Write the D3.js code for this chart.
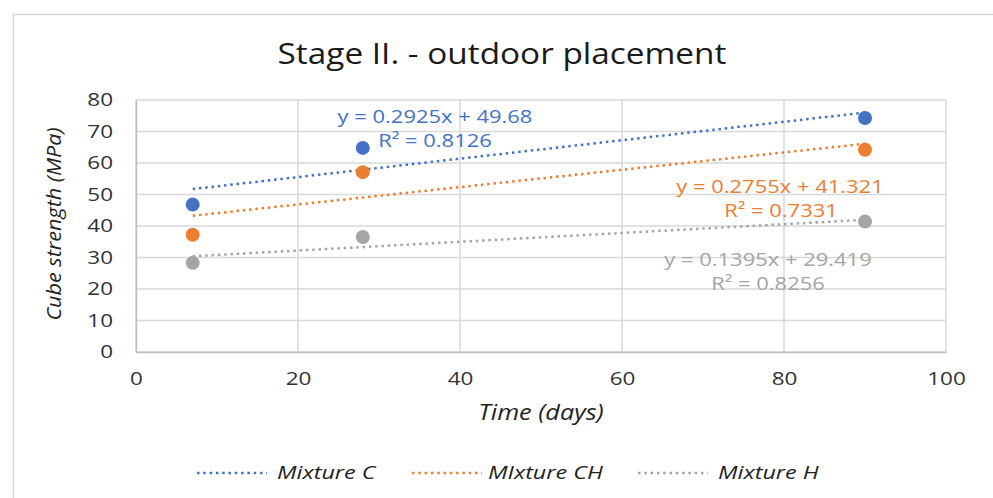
<!DOCTYPE html>
<html>
<head>
<meta charset="utf-8">
<script src="https://cdn.jsdelivr.net/npm/d3@7"></script>
<style>
  html, body { margin: 0; padding: 0; background: #fff; }
  #chart { width: 993px; height: 498px; }
  text { font-family: "Open Sans", Calibri, sans-serif; }
</style>
</head>
<body>
<div id="chart"></div>
<script>
// data
const days = [7, 28, 90];
const seriesNames = ["Mixture C", "MIxture CH", "Mixture H"];
const mixtureC = [46.8, 64.8, 74.3];
const mixtureCH = [37.2, 57.1, 64.2];
const mixtureH = [28.3, 36.5, 41.4];
const slopes = [0.2925, 0.2755, 0.1395];
const intercepts = [49.68, 41.321, 29.419];
const eqLabels = ["y = 0.2925x + 49.68", "y = 0.2755x + 41.321", "y = 0.1395x + 29.419"];
const r2Labels = ["R² = 0.8126", "R² = 0.7331", "R² = 0.8256"];
const xTicks = [0, 20, 40, 60, 80, 100];
const yTicks = [0, 10, 20, 30, 40, 50, 60, 70, 80];

const colors = ["#4472C4", "#ED7D31", "#A5A5A5"];
const values = [mixtureC, mixtureCH, mixtureH];

const width = 993, height = 498;
const svg = d3.select("#chart").append("svg")
    .attr("width", width)
    .attr("height", height);

// the source picture is a bit wider than tall, so text gets stretched sideways
function label(g, x, y, txt, size, sx, opts) {
    opts = opts || {};
    return g.append("text")
        .attr("transform", `translate(${x},${y})` + (opts.rotate ? ` rotate(${opts.rotate})` : "") + ` scale(${sx},1)`)
        .attr("text-anchor", opts.anchor || "middle")
        .attr("font-size", size)
        .attr("font-style", opts.italic ? "italic" : null)
        .attr("fill", opts.fill || "#222")
        .text(txt);
}

// chart border
svg.append("rect")
    .attr("x", 13.5).attr("y", 14.5)
    .attr("width", 990).attr("height", 500)
    .attr("fill", "#fff")
    .attr("stroke", "#d9d9d9")
    .attr("stroke-width", 1.5);

const plot = { left: 136, top: 100, right: 946, bottom: 352 };

const x = d3.scaleLinear().domain([0, 100]).range([plot.left, plot.right]);
const y = d3.scaleLinear().domain([0, 80]).range([plot.bottom, plot.top]);

label(svg, 502, 64, "Stage II. - outdoor placement", 29, 1.15, { fill: "#1a1a1a" });

// gridlines
svg.append("g")
    .selectAll("line")
    .data(yTicks)
    .join("line")
    .attr("x1", plot.left).attr("x2", plot.right)
    .attr("y1", d => y(d)).attr("y2", d => y(d))
    .attr("stroke", "#d9d9d9")
    .attr("stroke-width", 1.5);

svg.append("g")
    .selectAll("line")
    .data(xTicks)
    .join("line")
    .attr("x1", d => x(d)).attr("x2", d => x(d))
    .attr("y1", plot.top).attr("y2", plot.bottom)
    .attr("stroke", "#d9d9d9")
    .attr("stroke-width", 1.5);

// axes
const yAxis = svg.append("g")
    .attr("transform", `translate(${plot.left},0)`)
    .call(d3.axisLeft(y).tickValues(yTicks).tickSize(0));
yAxis.selectAll("text")
    .attr("x", 0)
    .attr("transform", "translate(-23,0) scale(1.25,1)");

const xAxis = svg.append("g")
    .attr("transform", `translate(0,${plot.bottom})`)
    .call(d3.axisBottom(x).tickValues(xTicks).tickSize(0).tickPadding(20));
xAxis.selectAll("text")
    .attr("transform", "scale(1.25,1)");

[xAxis, yAxis].forEach(a => {
    a.select(".domain").attr("stroke", "#bfbfbf").attr("stroke-width", 1.5);
    a.selectAll("text")
        .attr("font-size", 18)
        .attr("fill", "#333")
        .style("font-family", "'Open Sans', sans-serif");
});

label(svg, 541, 420, "Time (days)", 21, 1.2, { italic: true });
label(svg, 61, 224, "Cube strength (MPa)", 20, 1.08, { italic: true, rotate: -90 });

// trend lines
const xMin = d3.min(days), xMax = d3.max(days);
slopes.forEach((m, i) => {
    svg.append("line")
        .attr("x1", x(xMin)).attr("y1", y(m * xMin + intercepts[i]))
        .attr("x2", x(xMax)).attr("y2", y(m * xMax + intercepts[i]))
        .attr("stroke", colors[i])
        .attr("stroke-width", 2.5)
        .attr("stroke-dasharray", "2.5,3.8");
});

// points
values.forEach((vals, i) => {
    svg.append("g")
        .selectAll("circle")
        .data(vals)
        .join("circle")
        .attr("cx", (d, j) => x(days[j]))
        .attr("cy", d => y(d))
        .attr("r", 7)
        .attr("fill", colors[i]);
});

// equation labels
const eqPos = [[435, 123, 435, 147], [780, 193, 781, 217], [768, 266, 768, 290]];
eqLabels.forEach((t, i) => {
    label(svg, eqPos[i][0], eqPos[i][1], t, 18, 1.22, { fill: colors[i] });
    label(svg, eqPos[i][2], eqPos[i][3], r2Labels[i], 18, 1.22, { fill: colors[i] });
});

// legend
const legendX = [197, 412, 638];
const legend = svg.append("g")
    .selectAll("g")
    .data(seriesNames)
    .join("g")
    .attr("transform", (d, i) => `translate(${legendX[i]},473)`);
legend.append("line")
    .attr("x1", 0).attr("x2", 70)
    .attr("stroke", (d, i) => colors[i])
    .attr("stroke-width", 2.5)
    .attr("stroke-dasharray", "2.5,3.8");
legend.each(function(d, i) {
    label(d3.select(this), i === 1 ? 76 : 80, 6, d, 18, 1.3, { italic: true, anchor: "start" });
});
</script>
</body>
</html>
